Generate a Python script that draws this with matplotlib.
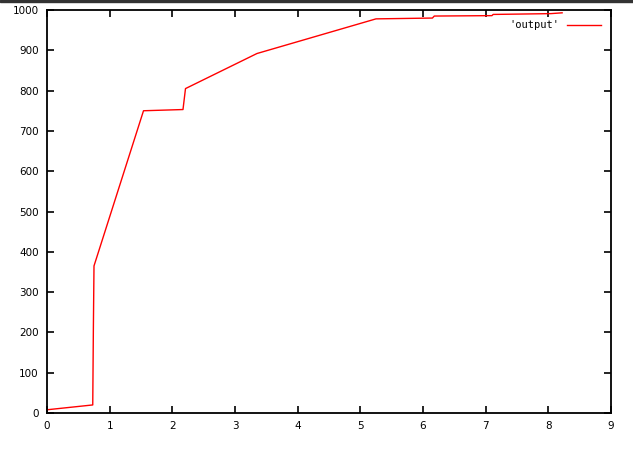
import matplotlib
matplotlib.use('Agg')
import matplotlib.pyplot as plt
from matplotlib.patches import Rectangle

# data (gnuplot-style step/curve)
x_vals = [0.0, 0.73, 0.74, 0.75, 1.54, 2.17, 2.21, 3.35, 5.25, 6.15, 6.18, 7.10, 7.12, 8.04, 8.22]
y_vals = [8, 20, 210, 365, 750, 753, 805, 892, 978, 980, 985, 986, 989, 991, 993]

x_ticks = list(range(0, 10))
y_ticks = list(range(0, 1001, 100))

fig = plt.figure(figsize=(6.33, 4.51), dpi=100)
ax = fig.add_axes([47 / 633, 38 / 451, 564 / 633, 403 / 451])

ax.plot(x_vals, y_vals, color='red', linewidth=1.0, label="'output'")

ax.set_xlim(0, 9)
ax.set_ylim(0, 1000)
ax.set_xticks(x_ticks)
ax.set_yticks(y_ticks)
ax.tick_params(direction='in', length=5, width=1.2, top=True, right=True,
               labelsize=7.5, pad=6)
for sp in ax.spines.values():
    sp.set_linewidth(1.3)

leg = ax.legend(loc='upper right', frameon=False, fontsize=7.5,
                handlelength=3.2, markerfirst=False, borderaxespad=0.6,
                prop={'family': 'DejaVu Sans Mono', 'size': 7.5})

# thin dark strip along the top edge of the screenshot
fig.patches.append(Rectangle((0, 1 - 2 / 451), 1, 2 / 451, transform=fig.transFigure,
                             color='#333333', zorder=10))

fig.savefig('out.png', dpi=100)
